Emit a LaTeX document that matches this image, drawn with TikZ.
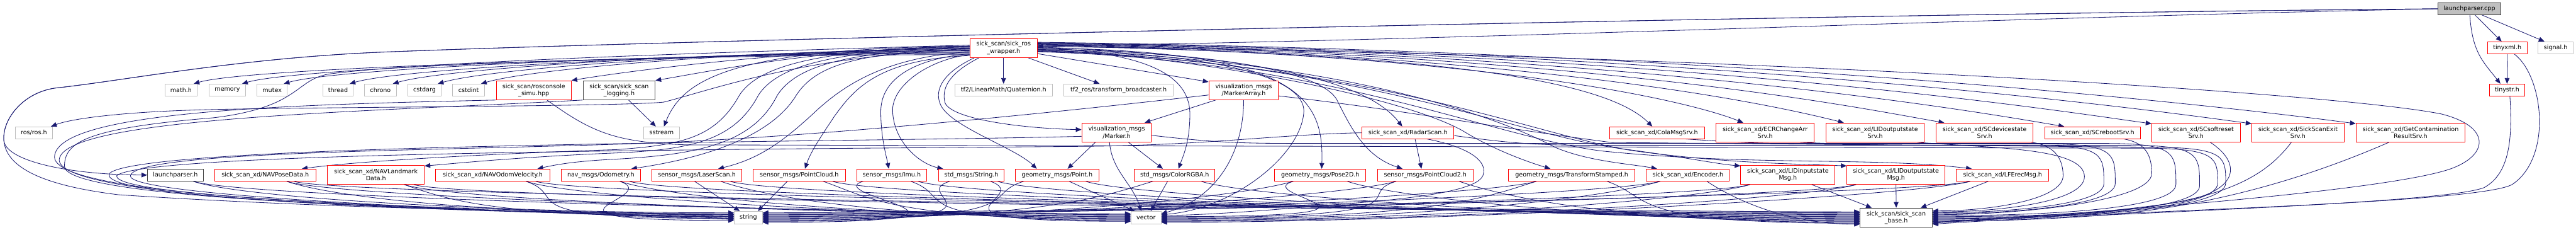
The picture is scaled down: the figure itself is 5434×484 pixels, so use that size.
\documentclass[tikz,border=0pt]{standalone}
\usepackage{fontspec}
\setmainfont{DejaVu Sans}
\usetikzlibrary{arrows.meta,calc}
\pgfdeclarelayer{bg}
\pgfsetlayers{bg,main}
\definecolor{edgec}{HTML}{191970}
\definecolor{redc}{HTML}{FF0000}
\definecolor{grayc}{HTML}{BFBFBF}
\definecolor{darkc}{HTML}{404040}
\definecolor{cppfill}{HTML}{BFBFBF}
\newcommand\nd[7]{\node[#1,minimum width=#5pt,minimum height=#6pt] (#2) at (#3,#4) {#7};}
\newcommand\rl[5]{\draw[edg] #1 .. controls ({#2+150},#3) and ({#2+200},#3) .. ({#2+350},#3) -- ({#4-150},#3) .. controls (#4,#3) and (#4,{#3+20}) .. (#4,{(#3+#5)/2+10}) .. controls (#4,{(#3+#5)/2+60}) and ({#4-250},#5) .. ($(base.east)+(0,{#5-458})$);}
\newcommand\edgeR[2]{\draw[edg] #1 .. controls +(100,35) and +(-500,0) .. #2;}
\newcommand\edgeL[2]{\draw[edg] #1 .. controls +(-100,30) and +(600,0) .. #2;}
\begin{document}
\begin{tikzpicture}[x=1pt,y=-1pt,
 box/.style={draw,line width=1.3pt,inner sep=0pt,align=center,fill=white,text=black,font=\fontsize{12.7}{15}\selectfont},
 rbox/.style={box,draw=redc},
 gbox/.style={box,draw=grayc},
 dbox/.style={box,draw=darkc},
 edg/.style={draw=edgec,line width=1.1pt,-{Triangle[length=12pt,width=10pt]}}]
\useasboundingbox (0,0) rectangle (5434,484);
% row 0/1
\nd{dbox,fill=cppfill}{cpp}{5209}{18.5}{132}{25}{launchparser.cpp}
\nd{rbox}{W}{2117}{101}{142}{40}{sick\_scan/sick\_ros\\\_wrapper.h}
\nd{rbox}{txml}{5289}{100.5}{84}{25}{tinyxml.h}
\nd{gbox}{sig}{5391}{100.5}{74}{25}{signal.h}
% row 2
\nd{gbox}{math}{382}{189.5}{68}{25}{math.h}
\nd{gbox}{mem}{479.5}{189.5}{77}{25}{memory}
\nd{gbox}{mtx}{574}{189.5}{64}{25}{mutex}
\nd{gbox}{thr}{713}{189.5}{64}{25}{thread}
\nd{gbox}{chr}{802.5}{189.5}{67}{25}{chrono}
\nd{gbox}{carg}{895.5}{189.5}{71}{25}{cstdarg}
\nd{gbox}{cint}{988.5}{189.5}{67}{25}{cstdint}
\nd{rbox}{rcs}{1126}{190}{158}{40}{sick\_scan/rosconsole\\\_simu.hpp}
\nd{dbox}{log}{1306}{190}{152}{40}{sick\_scan/sick\_scan\\\_logging.h}
\nd{gbox}{quat}{2117}{189.5}{206}{25}{tf2/LinearMath/Quaternion.h}
\nd{gbox}{tfb}{2359.5}{189.5}{231}{25}{tf2\_ros/transform\_broadcaster.h}
\nd{rbox}{MA}{2623.5}{190}{147}{40}{visualization\_msgs\\/MarkerArray.h}
\nd{rbox}{tstr}{5288.5}{189.5}{75}{25}{tinystr.h}
% row 3
\nd{gbox}{ros}{71.5}{279.5}{79}{25}{ros/ros.h}
\nd{gbox}{sst}{1395.5}{279.5}{75}{25}{sstream}
\nd{rbox}{mk}{2355.5}{279}{147}{40}{visualization\_msgs\\/Marker.h}
\nd{rbox}{radar}{2970}{279.5}{194}{25}{sick\_scan\_xd/RadarScan.h}
\nd{rbox}{cola}{3495.5}{279.5}{201}{25}{sick\_scan\_xd/ColaMsgSrv.h}
\nd{rbox}{ecr}{3723.5}{279}{207}{40}{sick\_scan\_xd/ECRChangeArr\\Srv.h}
\nd{rbox}{lidos}{3955.5}{279}{207}{40}{sick\_scan\_xd/LIDoutputstate\\Srv.h}
\nd{rbox}{scdev}{4186.5}{279}{205}{40}{sick\_scan\_xd/SCdevicestate\\Srv.h}
\nd{rbox}{scrb}{4414}{279.5}{202}{25}{sick\_scan\_xd/SCrebootSrv.h}
\nd{rbox}{scsr}{4632.5}{279}{187}{40}{sick\_scan\_xd/SCsoftreset\\Srv.h}
\nd{rbox}{sexit}{4847.5}{279}{195}{40}{sick\_scan\_xd/SickScanExit\\Srv.h}
\nd{rbox}{gcr}{5085}{279}{230}{40}{sick\_scan\_xd/GetContamination\\ResultSrv.h}
% row 4
\nd{dbox}{lph}{370}{368.5}{118}{25}{launchparser.h}
\nd{rbox}{navp}{559.5}{368.5}{213}{25}{sick\_scan\_xd/NAVPoseData.h}
\nd{rbox}{navl}{793}{368}{204}{40}{sick\_scan\_xd/NAVLandmark\\Data.h}
\nd{rbox}{navo}{1039.5}{368.5}{241}{25}{sick\_scan\_xd/NAVOdomVelocity.h}
\nd{rbox}{odom}{1267.5}{368.5}{167}{25}{nav\_msgs/Odometry.h}
\nd{rbox}{lscan}{1470}{368.5}{190}{25}{sensor\_msgs/LaserScan.h}
\nd{rbox}{pc}{1686}{368.5}{194}{25}{sensor\_msgs/PointCloud.h}
\nd{rbox}{imu}{1881}{368.5}{148}{25}{sensor\_msgs/Imu.h}
\nd{rbox}{smstr}{2049}{368.5}{138}{25}{std\_msgs/String.h}
\nd{rbox}{gpt}{2230}{368.5}{176}{25}{geometry\_msgs/Point.h}
\nd{rbox}{rgba}{2478}{368.5}{170}{25}{std\_msgs/ColorRGBA.h}
\nd{rbox}{p2d}{2785}{368.5}{192}{25}{geometry\_msgs/Pose2D.h}
\nd{rbox}{pc2}{3006.5}{368.5}{201}{25}{sensor\_msgs/PointCloud2.h}
\nd{rbox}{tfs}{3315.5}{368.5}{267}{25}{geometry\_msgs/TransformStamped.h}
\nd{rbox}{enc}{3560.5}{368.5}{175}{25}{sick\_scan\_xd/Encoder.h}
\nd{rbox}{lidi}{3771.5}{368}{199}{40}{sick\_scan\_xd/LIDinputstate\\Msg.h}
\nd{rbox}{lido}{3999.5}{368}{207}{40}{sick\_scan\_xd/LIDoutputstate\\Msg.h}
\nd{rbox}{lfe}{4224.5}{368.5}{195}{25}{sick\_scan\_xd/LFErecMsg.h}
% row 5
\nd{gbox}{strg}{1578.5}{458}{59}{26}{string}
\nd{gbox}{vec}{2417.5}{458}{63}{26}{vector}
\nd{dbox}{base}{4000}{458}{152}{40}{sick\_scan/sick\_scan\\\_base.h}

\begin{pgfonlayer}{bg}
\fill[white] (0,0) rectangle (5434,484);
% launchparser.cpp
\draw[edg] (cpp.west) .. controls +(-900,18) and +(900,-12) .. ($(W.east)+(0,-4)$);
\draw[edg] (cpp.west) .. controls (3800,30) and (1400,85) .. (800,110) .. controls (500,123) and (260,170) .. (120,185) .. controls (50,193) and (5,250) .. (8,295) .. controls (11,340) and (150,368) .. (lph.west);
\draw[edg] (cpp.west) .. controls (3800,30) and (1400,85) .. (800,110) .. controls (500,123) and (260,170) .. (120,185) .. controls (50,193) and (5,250) .. (8,295) .. controls (12,345) and (70,388) .. (250,410) .. controls (700,440) and (1300,450) .. ($(strg.west)+(0,-8)$);
\draw[edg] ($(cpp.south)+(12,0)$) -- ($(txml.north)+(-12,0)$);
\draw[edg] ($(cpp.south east)+(-40,0)$) -- ($(sig.north west)+(14,0)$);
\draw[edg] ($(cpp.south)+(1,0)$) .. controls +(5,80) and +(-35,-45) .. ($(tstr.north)+(-14,0)$);
\draw[edg] (txml.south) -- (tstr.north);
\draw[edg] ($(txml.south east)+(-28,0)$) .. controls (5365,160) and (5385,330) .. (5300,388) .. controls (5230,430) and (4400,446) .. ($(base.east)+(0,12)$);
\draw[edg] ($(tstr.south)+(6,0)$) .. controls (5300,290) and (5295,365) .. (5240,395) .. controls (5150,430) and (4400,450) .. ($(base.east)+(0,14)$);
% wrapper -> row 2
\draw[edg] ($(W.west)+(0,14)$) .. controls +(-600,0) and +(120,-35) .. ($(math.north east)+(-8,0)$);
\draw[edg] ($(W.west)+(0,12)$) .. controls +(-600,0) and +(120,-35) .. ($(mem.north east)+(-8,0)$);
\draw[edg] ($(W.west)+(0,10)$) .. controls +(-550,0) and +(120,-35) .. ($(mtx.north east)+(-8,0)$);
\draw[edg] ($(W.west)+(0,8)$) .. controls +(-500,0) and +(120,-35) .. ($(thr.north east)+(-8,0)$);
\draw[edg] ($(W.west)+(0,6)$) .. controls +(-500,0) and +(120,-35) .. ($(chr.north east)+(-8,0)$);
\draw[edg] ($(W.west)+(0,4)$) .. controls +(-450,0) and +(120,-35) .. ($(carg.north east)+(-8,0)$);
\draw[edg] ($(W.west)+(0,2)$) .. controls +(-400,0) and +(120,-35) .. ($(cint.north east)+(-8,0)$);
\draw[edg] ($(W.west)+(0,0)$) .. controls +(-350,0) and +(120,-20) .. (rcs.north east);
\draw[edg] ($(W.west)+(0,-2)$) .. controls +(-300,0) and +(120,-20) .. (log.north east);
\draw[edg] (W.south) -- (quat.north);
\draw[edg] ($(W.south east)+(-20,0)$) -- ($(tfb.north)+(-40,0)$);
\draw[edg] ($(W.east)+(0,12)$) -- ($(MA.north west)+(0,3)$);
% wrapper -> left lower
\draw[edg] ($(W.west)+(0,4)$) .. controls (1700,115) and (1500,190) .. (1400,215) .. controls (1300,225) and (600,225) .. (400,232) .. controls (250,237) and (150,250) .. ($(ros.north east)+(-4,0)$);
\draw[edg] ($(W.west)+(0,-4)$) .. controls +(-500,5) and +(40,-100) .. ($(sst.north)+(5,0)$);
\draw[edg] ($(log.south)+(20,0)$) -- ($(sst.north)+(-12,0)$);
\draw[edg] ($(W.south west)+(20,0)$) .. controls (2010,150) and (1985,180) .. (1993,215) .. controls (2003,250) and (2150,270) .. ($(mk.west)+(0,-6)$);
\draw[edg] ($(W.south west)+(10,0)$) .. controls (1995,150) and (1970,185) .. (1983,218) .. controls (2000,265) and (2140,310) .. ($(gpt.north)+(-43,0)$);
\draw[edg] ($(W.west)+(0,14)$) .. controls (1960,125) and (1880,180) .. (1883,235) .. controls (1886,300) and (1940,345) .. ($(smstr.north west)+(10,0)$);
\draw[edg] ($(W.west)+(0,12)$) .. controls (1920,125) and (1858,170) .. (1858,235) .. controls (1858,290) and (1870,330) .. ($(imu.north)+(-6,0)$);
\draw[edg] ($(W.west)+(0,16)$) .. controls (1850,125) and (1800,190) .. (1760,245) .. controls (1730,290) and (1710,320) .. ($(pc.north)+(12,0)$);
\draw[edg] ($(W.west)+(0,8)$) .. controls (1880,120) and (1790,170) .. (1720,235) .. controls (1650,300) and (1600,335) .. ($(lscan.north)+(45,0)$);
\draw[edg] ($(W.west)+(0,2)$) .. controls (1800,110) and (1720,140) .. (1680,200) .. controls (1620,300) and (1450,338) .. ($(odom.north east)+(-20,0)$);
\draw[edg] ($(W.west)+(0,0)$) .. controls (1780,108) and (1680,140) .. (1640,200) .. controls (1590,300) and (1480,325) .. (1300,335) .. controls (1220,339) and (1180,345) .. ($(navo.north east)+(-27,0)$);
\draw[edg] ($(W.west)+(0,-2)$) .. controls (1750,106) and (1640,140) .. (1600,200) .. controls (1550,295) and (1460,315) .. (1300,322) .. controls (1100,330) and (950,345) .. ($(navl.north east)+(0,2)$);
\draw[edg] ($(W.west)+(0,-4)$) .. controls (1720,104) and (1600,140) .. (1560,200) .. controls (1510,290) and (1440,305) .. (1300,315) .. controls (1000,325) and (750,340) .. ($(navp.north east)+(-30,0)$);
\draw[edg] ($(W.west)+(0,-6)$) .. controls (1500,110) and (900,130) .. (700,155) .. controls (620,165) and (640,225) .. (450,248) .. controls (180,270) and (136,300) .. (136,350) .. controls (136,410) and (700,440) .. ($(strg.west)+(0,-4)$);
% wrapper -> right
\draw[edg] ($(W.east)+(0,-2)$) .. controls +(500,20) and +(-70,-90) .. ($(radar.north)+(-12,0)$);
\draw[edg] ($(W.east)+(0,-4)$) .. controls +(900,15) and +(-90,-90) .. ($(cola.north)+(-10,0)$);
\draw[edg] ($(W.east)+(0,-6)$) .. controls +(1000,20) and +(-100,-40) .. ($(ecr.north west)+(58,0)$);
\draw[edg] ($(W.east)+(0,-7)$) .. controls +(1100,20) and +(-120,-30) .. ($(lidos.north west)+(38,0)$);
\draw[edg] ($(W.east)+(0,-8)$) .. controls +(1200,20) and +(-150,-25) .. ($(scdev.north west)+(18,0)$);
\draw[edg] ($(W.east)+(0,-9)$) .. controls +(1300,20) and +(-150,-25) .. ($(scrb.north west)+(42,0)$);
\draw[edg] ($(W.east)+(0,-10)$) .. controls +(1400,20) and +(-150,-20) .. ($(scsr.north west)+(0,2)$);
\draw[edg] ($(W.east)+(0,-11)$) .. controls +(1500,20) and +(-150,-20) .. ($(sexit.north west)+(0,2)$);
\draw[edg] ($(W.east)+(0,-12)$) .. controls +(1600,20) and +(-150,-20) .. ($(gcr.north west)+(0,2)$);
\draw[edg] ($(W.east)+(0,0)$) .. controls +(550,5) and +(5,-150) .. ($(p2d.north)+(3,0)$);
\draw[edg] ($(W.east)+(0,2)$) .. controls (2500,108) and (2780,140) .. (2820,210) .. controls (2850,270) and (2880,330) .. ($(pc2.north)+(-48,0)$);
\draw[edg] ($(W.east)+(0,4)$) .. controls (2500,115) and (2950,200) .. (3085,275) .. controls (3150,315) and (3220,340) .. ($(tfs.north)+(-45,0)$);
\draw[edg] ($(W.east)+(0,5)$) .. controls (2800,120) and (3150,240) .. (3280,310) .. controls (3350,340) and (3440,345) .. ($(enc.north)+(-65,0)$);
\draw[edg] ($(W.east)+(0,6)$) .. controls (2850,125) and (3200,285) .. (3420,313) .. controls (3550,330) and (3620,345) .. ($(lidi.north west)+(0,2)$);
\draw[edg] ($(W.east)+(0,7)$) .. controls (2900,130) and (3250,290) .. (3450,318) .. controls (3650,345) and (3800,345) .. ($(lido.north west)+(0,2)$);
\draw[edg] ($(W.east)+(0,8)$) .. controls (2800,125) and (3150,290) .. (3380,318) .. controls (3700,350) and (3950,330) .. ($(lfe.north west)+(33,0)$);
\draw[edg] ($(W.east)+(0,-1)$) .. controls (2400,110) and (2510,150) .. (2510,240) .. controls (2510,300) and (2495,330) .. ($(rgba.north)+(8,0)$);
\draw[edg] ($(W.east)+(0,3)$) .. controls (2600,112) and (2760,170) .. (2750,240) .. controls (2740,330) and (2600,440) .. ($(vec.east)+(0,-6)$);
\draw[edg] ($(W.east)+(0,-3)$) .. controls (3500,110) and (4900,190) .. (5150,240) .. controls (5250,265) and (5250,320) .. (5183,350) .. controls (5080,400) and (4400,450) .. ($(base.east)+(0,10)$);
% rosconsole / logging -> string
\draw[edg] (rcs.south west) .. controls (650,220) and (120,230) .. (115,330) .. controls (112,420) and (900,440) .. ($(strg.west)+(0,-6)$);
\draw[edg] (log.south west) .. controls (800,235) and (140,245) .. (125,335) .. controls (115,420) and (900,445) .. ($(strg.west)+(0,-2)$);
\draw[edg] ($(rcs.south)+(28,0)$) .. controls (1250,280) and (1300,300) .. (1450,305) -- (4528,312) .. controls (4678,313) and (4678,333) .. (4678,386) .. controls (4678,440) and (4400,458) .. ($(base.east)+(0,0)$);
% Marker
\draw[edg] ($(mk.south)+(-45,0)$) -- ($(gpt.north)+(22,0)$);
\draw[edg] ($(mk.south)+(25,0)$) -- ($(rgba.north)+(-25,0)$);
\draw[edg] ($(mk.south)+(-15,0)$) .. controls +(5,60) and +(-20,-60) .. ($(vec.north)+(-10,0)$);
\draw[edg] ($(mk.west)+(0,8)$) .. controls (1800,300) and (300,300) .. (231,365) .. controls (200,420) and (900,440) .. ($(strg.west)+(0,0)$);
\rl{($(mk.east)+(0,6)$)}{2429}{302}{4590}{454}
% MarkerArray
\draw[edg] ($(MA.south west)+(15,0)$) -- ($(mk.north east)+(-15,0)$);
\draw[edg] (MA.south) .. controls (2623,330) and (2560,420) .. ($(vec.east)+(0,-8)$);
\draw[edg] ($(MA.west)+(0,10)$) .. controls (2200,240) and (1700,290) .. (1350,302) .. controls (900,318) and (285,318) .. (275,370) .. controls (270,410) and (900,440) .. ($(strg.west)+(0,4)$);
\draw[edg] ($(MA.east)+(0,12)$) .. controls (2950,230) and (3150,268) .. (3400,300) -- (4545,310) .. controls (4695,311) and (4695,331) .. (4695,385) .. controls (4695,440) and (4400,460) .. ($(base.east)+(0,2)$);
% RadarScan
\draw[edg] ($(radar.south)+(15,0)$) -- ($(pc2.north)+(-8,0)$);
\draw[edg] (radar.west) .. controls (2700,283) and (2550,305) .. (2300,308) .. controls (1500,315) and (300,320) .. (246,370) .. controls (240,415) and (900,440) .. ($(strg.west)+(0,2)$);
\draw[edg] ($(radar.south)+(40,0)$) .. controls (3100,310) and (3140,340) .. (3128,370) .. controls (3115,400) and (3000,418) .. (2800,432) .. controls (2650,445) and (2550,452) .. ($(vec.east)+(0,-4)$);
\rl{($(radar.east)+(0,6)$)}{3067}{306}{4640}{456}
% services -> base
\rl{($(cola.south east)+(-40,0)$)}{3556}{303}{4462}{450}
\rl{($(ecr.south east)+(-30,0)$)}{3797}{306}{4438}{448}
\draw[edg] ($(lidos.south east)+(-15,0)$) .. controls (4200,312) and (4397,310) .. (4397,372) .. controls (4397,425) and (4220,446) .. ($(base.east)+(0,-12)$);
\draw[edg] ($(scdev.south east)+(-5,0)$) .. controls (4330,305) and (4352,330) .. (4352,370) .. controls (4352,420) and (4200,444) .. ($(base.east)+(0,-14)$);
\draw[edg] ($(scrb.south east)+(-35,0)$) .. controls (4520,300) and (4539,320) .. (4539,365) .. controls (4539,425) and (4250,452) .. ($(base.east)+(0,-6)$);
\draw[edg] ($(scsr.south)+(30,0)$) .. controls (4725,340) and (4730,400) .. (4600,425) .. controls (4400,455) and (4200,462) .. ($(base.east)+(0,4)$);
\draw[edg] ($(sexit.south)+(-14,0)$) .. controls (4780,370) and (4700,415) .. (4500,440) .. controls (4300,462) and (4150,464) .. ($(base.east)+(0,6)$);
\draw[edg] ($(gcr.south west)+(70,0)$) .. controls (4900,360) and (4700,430) .. (4450,452) .. controls (4300,464) and (4150,466) .. ($(base.east)+(0,8)$);
% row 4 -> string / vector / base
\edgeR{($(lph.south east)+(-22,0)$)}{($(strg.west)+(0,-10)$)}
\edgeR{($(lph.south east)+(-22,0)$)}{($(vec.west)+(0,-8)$)}
\edgeR{($(navp.south)+(45,0)$)}{($(strg.west)+(0,-6)$)}
\edgeR{($(navp.south)+(45,0)$)}{($(vec.west)+(0,-6)$)}
\edgeR{($(navp.south)+(60,0)$)}{($(base.west)+(0,-12)$)}
\edgeR{($(navl.south)+(60,0)$)}{($(strg.west)+(0,-2)$)}
\edgeR{($(navl.south)+(60,0)$)}{($(vec.west)+(0,-4)$)}
\edgeR{($(navl.south)+(80,0)$)}{($(base.west)+(0,-10)$)}
\edgeR{($(navo.south)+(70,0)$)}{($(strg.west)+(0,2)$)}
\edgeR{($(navo.south)+(70,0)$)}{($(vec.west)+(0,-2)$)}
\edgeR{($(navo.south)+(90,0)$)}{($(base.west)+(0,-8)$)}
\edgeR{($(odom.south)+(40,0)$)}{($(strg.west)+(0,6)$)}
\edgeR{($(odom.south)+(40,0)$)}{($(vec.west)+(0,0)$)}
\edgeR{($(odom.south)+(60,0)$)}{($(base.west)+(0,-6)$)}
\draw[edg] ($(lscan.south)+(-5,0)$) -- ($(strg.north west)+(12,0)$);
\edgeR{($(lscan.south)+(50,0)$)}{($(vec.west)+(0,2)$)}
\edgeR{($(lscan.south)+(70,0)$)}{($(base.west)+(0,-4)$)}
\draw[edg] ($(pc.south)+(-25,0)$) -- ($(strg.north east)+(-10,0)$);
\edgeR{($(pc.south)+(50,0)$)}{($(vec.west)+(0,4)$)}
\edgeR{($(pc.south)+(70,0)$)}{($(base.west)+(0,-2)$)}
\edgeL{($(imu.south)+(-60,0)$)}{($(strg.east)+(0,10)$)}
\edgeR{($(imu.south)+(40,0)$)}{($(vec.west)+(0,6)$)}
\edgeR{($(imu.south)+(55,0)$)}{($(base.west)+(0,0)$)}
\edgeL{($(smstr.south)+(-45,0)$)}{($(strg.east)+(0,8)$)}
\edgeR{($(smstr.south)+(40,0)$)}{($(vec.west)+(0,8)$)}
\edgeR{($(smstr.south)+(55,0)$)}{($(base.west)+(0,2)$)}
\edgeL{($(gpt.south)+(-70,0)$)}{($(strg.east)+(0,6)$)}
\draw[edg] ($(gpt.south)+(25,0)$) -- ($(vec.north west)+(8,0)$);
\edgeR{($(gpt.south)+(60,0)$)}{($(base.west)+(0,4)$)}
\edgeL{($(rgba.south west)+(40,0)$)}{($(strg.east)+(0,4)$)}
\draw[edg] ($(rgba.south)+(-15,0)$) -- ($(vec.north)+(10,0)$);
\edgeR{($(rgba.south east)+(-30,0)$)}{($(base.west)+(0,6)$)}
\edgeL{($(p2d.south west)+(40,0)$)}{($(strg.east)+(0,2)$)}
\edgeL{($(p2d.south west)+(40,0)$)}{($(vec.east)+(0,-2)$)}
\edgeR{($(p2d.south east)+(-40,0)$)}{($(base.west)+(0,8)$)}
\edgeL{($(pc2.south west)+(40,0)$)}{($(strg.east)+(0,0)$)}
\edgeL{($(pc2.south west)+(40,0)$)}{($(vec.east)+(0,0)$)}
\edgeR{($(pc2.south east)+(-30,0)$)}{($(base.west)+(0,10)$)}
\edgeL{($(tfs.south west)+(60,0)$)}{($(strg.east)+(0,-2)$)}
\edgeL{($(tfs.south west)+(60,0)$)}{($(vec.east)+(0,2)$)}
\edgeR{($(tfs.south east)+(-60,0)$)}{($(base.west)+(0,12)$)}
\edgeL{($(enc.south west)+(30,0)$)}{($(strg.east)+(0,-4)$)}
\edgeL{($(enc.south west)+(30,0)$)}{($(vec.east)+(0,4)$)}
\draw[edg] ($(enc.south)+(40,0)$) .. controls +(60,40) and +(-150,0) .. ($(base.west)+(0,14)$);
\edgeL{($(lidi.south west)+(20,0)$)}{($(strg.east)+(0,-6)$)}
\edgeL{($(lidi.south west)+(20,0)$)}{($(vec.east)+(0,6)$)}
\draw[edg] ($(lidi.south east)+(-50,0)$) -- ($(base.north west)+(25,0)$);
\edgeL{($(lido.south west)+(20,0)$)}{($(strg.east)+(0,-8)$)}
\edgeL{($(lido.south west)+(20,0)$)}{($(vec.east)+(0,8)$)}
\draw[edg] (lido.south) -- (base.north);
\edgeL{($(lfe.south west)+(30,0)$)}{($(strg.east)+(0,-10)$)}
\edgeL{($(lfe.south west)+(30,0)$)}{($(vec.east)+(0,10)$)}
\draw[edg] ($(lfe.south)+(-30,0)$) -- ($(base.north east)+(-25,0)$);
\end{pgfonlayer}
\end{tikzpicture}
\end{document}
